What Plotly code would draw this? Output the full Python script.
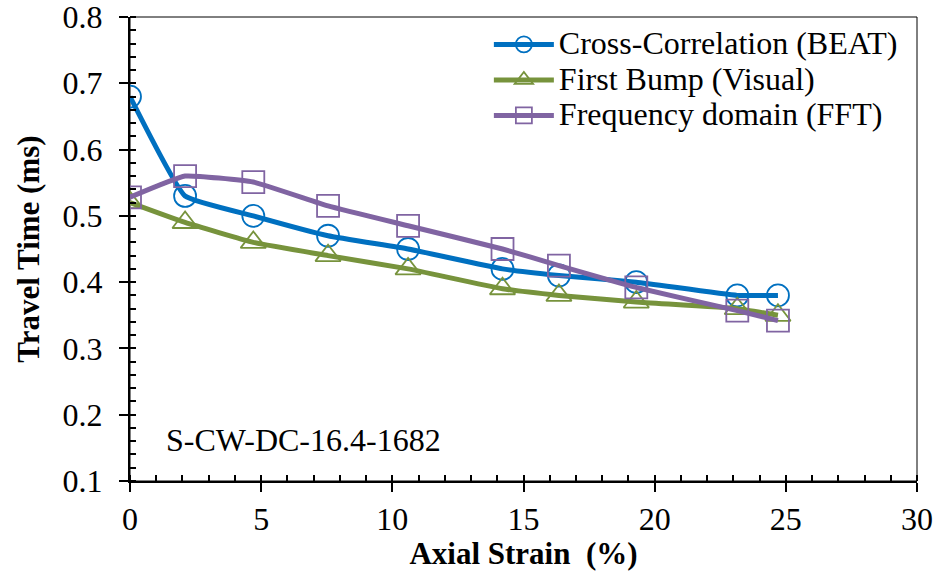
import plotly.graph_objects as go

strain = [0, 2.1, 4.7, 7.55, 10.6, 14.2, 16.35, 19.3, 23.15, 24.7]
beat = [0.68, 0.53, 0.50, 0.47, 0.45, 0.42, 0.41, 0.40, 0.38, 0.38]
visual = [0.52, 0.49, 0.46, 0.44, 0.42, 0.39, 0.38, 0.37, 0.36, 0.35]
fft = [0.528, 0.56, 0.551, 0.515, 0.485, 0.45, 0.425, 0.392, 0.357, 0.342]

names = ["Cross-Correlation (BEAT)", "First Bump (Visual)", "Frequency domain (FFT)"]
colors = ["#0070C0", "#77933C", "#8064A2"]
symbols = ["circle-open", "triangle-up-open", "square-open"]

FONT = "Liberation Serif"
fig = go.Figure()
for ys, nm, c, s in zip([beat, visual, fft], names, colors, symbols):
    fig.add_trace(go.Scatter(
        x=strain, y=ys, name='<span style="font-size:32px">' + nm + '</span>',
        mode="lines+markers",
        line=dict(color=c, width=5, shape="spline", smoothing=0.35),
        marker=dict(symbol=s, size=22, color=c, line=dict(color=c, width=1.8)),
    ))

fig.add_annotation(x=1.3, y=0.162, xref="x", yref="y", text="S-CW-DC-16.4-1682",
                   showarrow=False, xanchor="left", yanchor="middle",
                   font=dict(family=FONT, size=32, color="black"))

fig.add_shape(type="rect", xref="paper", yref="paper", x0=0, y0=0, x1=1, y1=1,
              line=dict(color="black", width=1), layer="below")

fig.update_layout(
    width=934, height=571,
    margin=dict(l=130, r=17, t=17, b=90),
    paper_bgcolor="white", plot_bgcolor="white",
    font=dict(family=FONT, size=32, color="black"),
    showlegend=True,
    legend=dict(x=0.456, y=0.99, xanchor="left", yanchor="top",
                borderwidth=0, bgcolor="rgba(255,255,255,0)",
                font=dict(family=FONT, size=25), itemwidth=60,
                tracegroupgap=0),
    xaxis=dict(range=[0, 30], dtick=5, showgrid=False, zeroline=False,
               showline=True, linecolor="black", linewidth=2, automargin=False,
               ticks="outside", ticklen=9, tickwidth=2, tickcolor="black",
               ticklabeloverflow="allow",
               minor=dict(dtick=1, ticks="inside", ticklen=6, tickwidth=1.5, tickcolor="black"),
               title=dict(text="<b>Axial Strain  (%)</b>", font=dict(family=FONT, size=31), standoff=2),
               tickfont=dict(family=FONT, size=32)),
    yaxis=dict(range=[0.1, 0.8], dtick=0.1, tickformat=".1f", showgrid=False, zeroline=False,
               showline=True, linecolor="black", linewidth=2, automargin=False,
               ticks="outside", ticklen=9, tickwidth=2, tickcolor="black",
               ticklabeloverflow="allow", ticklabelstandoff=10,
               minor=dict(dtick=0.02, ticks="inside", ticklen=6, tickwidth=1.5, tickcolor="black"),
               title=dict(text="<b>Travel Time (ms)</b>", font=dict(family=FONT, size=31), standoff=14),
               tickfont=dict(family=FONT, size=32)),
)

fig.write_html("out.html", config={"displayModeBar": False},
               post_script="document.body.style.margin='0';")
